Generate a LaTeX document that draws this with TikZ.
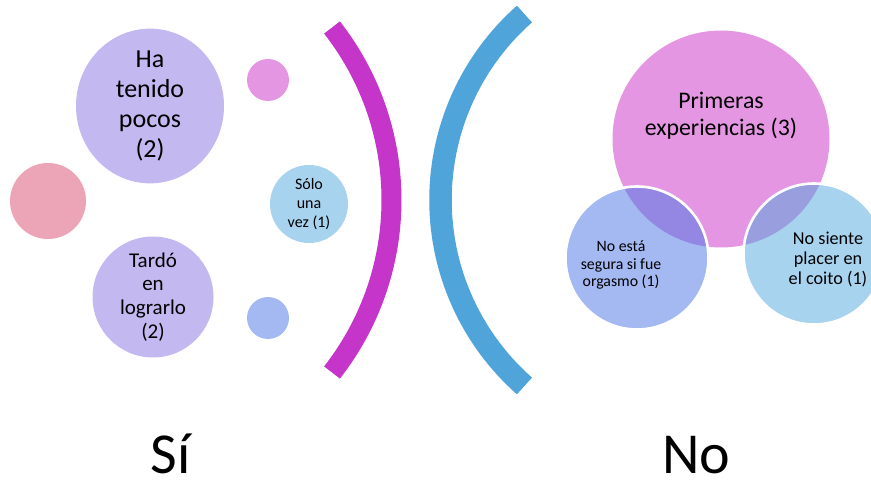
\documentclass[tikz,border=0pt]{standalone}
\usepackage{fontspec}
\setmainfont{Carlito}
\usetikzlibrary{shapes.geometric}
\definecolor{rosa}{HTML}{EBA5B6}
\definecolor{lila}{HTML}{C4B8F0}
\definecolor{orquidea}{HTML}{E496E2}
\definecolor{celeste}{HTML}{A8D3EE}
\definecolor{pervinca}{HTML}{A4B8F2}
\definecolor{magenta}{HTML}{C535C9}
\definecolor{azul}{HTML}{4FA5DA}
\definecolor{mezclaA}{HTML}{9387E3}
\definecolor{mezclaB}{HTML}{999FDE}
\tikzset{
  bubble/.style={circle, inner sep=0pt, draw=none},
  label/.style={align=center, inner sep=0pt, text=black},
  caption/.style={inner sep=0pt, anchor=base, text=black, font=\fontsize{58}{62}\selectfont},
  bracket/.style={line width=#1, line cap=butt},
}
\begin{document}
\begin{tikzpicture}[x=1pt,y=1pt]
\useasboundingbox (0,0) rectangle (871,-481);
\clip (0,0) rectangle (871,-481);

% --- left group: "Sí"
\node[bubble, fill=rosa, minimum size=76pt] (rosa) at (48,-201) {};
\node[ellipse, inner sep=0pt, fill=lila, minimum width=148pt, minimum height=139pt,
      label, font=\fontsize{26}{29.7}\selectfont] (pocos) at (150,-106)
      {Ha\\tenido\\pocos\\(2)};
\node[bubble, fill=lila, minimum size=121pt, label,
      font=\fontsize{21}{23.7}\selectfont] (tardo) at (153,-297)
      {Tardó\\en\\lograrlo\\(2)};
\node[bubble, fill=orquidea, minimum size=42pt] (puntoA) at (268,-80) {};
\node[bubble, fill=celeste, minimum size=78pt, label,
      font=\fontsize{16}{19}\selectfont] (unavez) at (309,-204)
      {Sólo\\una\\vez (1)};
\node[bubble, fill=pervinca, minimum size=42pt] (puntoB) at (268,-318) {};

% closing bracket
\coordinate (cA) at (111.7,-200);
\draw[bracket=20pt, magenta] (cA) ++(-38.06:279.8pt) arc[start angle=-38.06, end angle=38.06, radius=279.8pt];

% opening bracket
\coordinate (cB) at (688.4,-200);
\draw[bracket=22.5pt, azul] (cB) ++(131.4:247.9pt) arc[start angle=131.4, end angle=228.6, radius=247.9pt];

% --- right group: "No"
\node[bubble, fill=orquidea, minimum size=217pt] (primeras) at (721,-139) {};
\node[bubble, fill=pervinca, minimum size=141pt] (segura) at (637,-258) {};
\node[bubble, fill=celeste, minimum size=139pt] (coito) at (814,-254) {};
\begin{scope}
  \clip (721,-139) circle (108.5pt);
  \fill[mezclaA] (637,-258) circle (70.5pt);
  \fill[mezclaB] (814,-254) circle (69.5pt);
\end{scope}
\draw[white, line width=2.6pt] (segura) circle (71.5pt);
\draw[white, line width=2.6pt] (coito) circle (70.5pt);

\node[label, font=\fontsize{23.8}{27}\selectfont] (tprimeras) at (721,-116)
  {Primeras\\experiencias (3)};
\node[label, font=\fontsize{15.8}{17.6}\selectfont] (tsegura) at (621,-265)
  {No está\\segura si fue\\orgasmo (1)};
\node[label, font=\fontsize{18.2}{20}\selectfont] (tcoito) at (828,-260)
  {No siente\\placer en\\el coito (1)};

% captions
\node[caption] (si) at (170.5,-473) {Sí};
\node[caption] (no) at (696.5,-473) {No};
\end{tikzpicture}
\end{document}
